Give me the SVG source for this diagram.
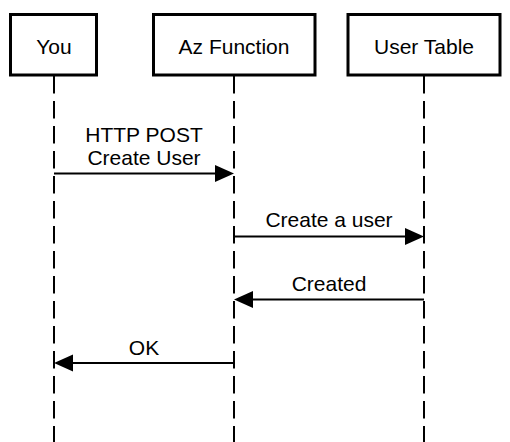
<svg xmlns="http://www.w3.org/2000/svg" width="510" height="442" viewBox="0 0 510 442">
<defs>
<style>
.box{fill:#fff;stroke:#000;stroke-width:3}
.life{stroke:#000;stroke-width:2;stroke-dasharray:17.5 7.5;fill:none}
.msg{stroke:#000;stroke-width:2;fill:none}
.head{fill:#000;stroke:none}
text{font-family:"Liberation Sans",Arial,sans-serif;font-size:21px;fill:#000;text-anchor:middle}
</style>
</defs>
<rect width="510" height="442" fill="#fff"/>
<g id="lifelines">
<line class="life" x1="54" y1="76" x2="54" y2="442"/>
<line class="life" x1="234" y1="76" x2="234" y2="442"/>
<line class="life" x1="424" y1="76" x2="424" y2="442"/>
</g>
<g id="you">
<rect class="box" x="10.5" y="14.5" width="86" height="60.5"/>
<text x="54" y="54">You</text>
</g>
<g id="azfunction">
<rect class="box" x="153.5" y="14.5" width="161.5" height="60.5"/>
<text x="234" y="54">Az Function</text>
</g>
<g id="usertable">
<rect class="box" x="348" y="14.5" width="152" height="60.5"/>
<text x="424" y="54">User Table</text>
</g>
<g id="connectors">
<line class="msg" x1="54" y1="173.5" x2="218" y2="173.5"/>
<polygon class="head" points="234,173.5 215,165 215,182"/>
<text x="144" y="141.5">HTTP POST</text>
<text x="144" y="164.5">Create User</text>
<line class="msg" x1="234" y1="236.5" x2="408" y2="236.5"/>
<polygon class="head" points="424,236.5 405,228 405,245"/>
<text x="329" y="227">Create a user</text>
<line class="msg" x1="424" y1="299.5" x2="250" y2="299.5"/>
<polygon class="head" points="234,299.5 253,291 253,308"/>
<text x="329" y="291">Created</text>
<line class="msg" x1="234" y1="363" x2="70" y2="363"/>
<polygon class="head" points="54,363 73,354.5 73,371.5"/>
<text x="144" y="354.5">OK</text>
</g>
</svg>
